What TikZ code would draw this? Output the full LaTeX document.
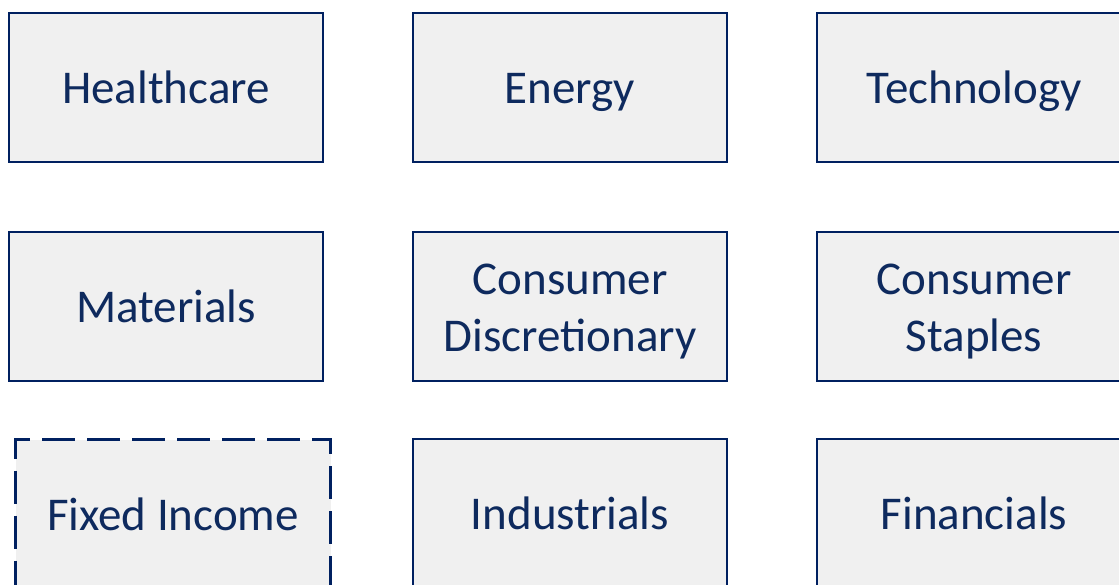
\documentclass[tikz,border=0pt]{standalone}
\usepackage{fontspec}
\setmainfont{Carlito}
\definecolor{navy}{HTML}{002060}
\definecolor{txt}{HTML}{0E2A5E}
\definecolor{boxfill}{HTML}{F0F0F0}
\newcommand{\lstrut}{\rule[-10pt]{0pt}{52pt}}
\begin{document}
\begin{tikzpicture}[x=1pt,y=-1pt,
  sector/.style={draw=navy, line width=2pt, fill=boxfill, rectangle,
    minimum width=314pt, minimum height=149pt, inner sep=0pt,
    text=txt, align=center, font=\fontsize{47}{57}\selectfont},
  dashedsector/.style={sector, line width=3pt, dash pattern=on 33pt off 12pt,
    minimum width=315pt}]
\useasboundingbox (0,0) rectangle (1119,584);
\node[sector] (health) at (166,87.5) {\lstrut Healthcare};
\node[sector] (energy) at (570,87.5) {\lstrut Energy};
\node[sector] (tech) at (974,87.5) {\lstrut Technology};
\node[sector] (mat) at (166,306.5) {\lstrut Materials};
\node[sector] (cdisc) at (570,306.5) {\lstrut Consumer\\\lstrut Discretionary};
\node[sector] (cstap) at (974,306.5) {\lstrut Consumer\\\lstrut Staples};
\node[dashedsector] (fixed) at (173,514) {\lstrut Fixed Income};
\node[sector] (indus) at (570,513.5) {\lstrut Industrials};
\node[sector] (fin) at (974,513.5) {\lstrut Financials};
\end{tikzpicture}
\end{document}
